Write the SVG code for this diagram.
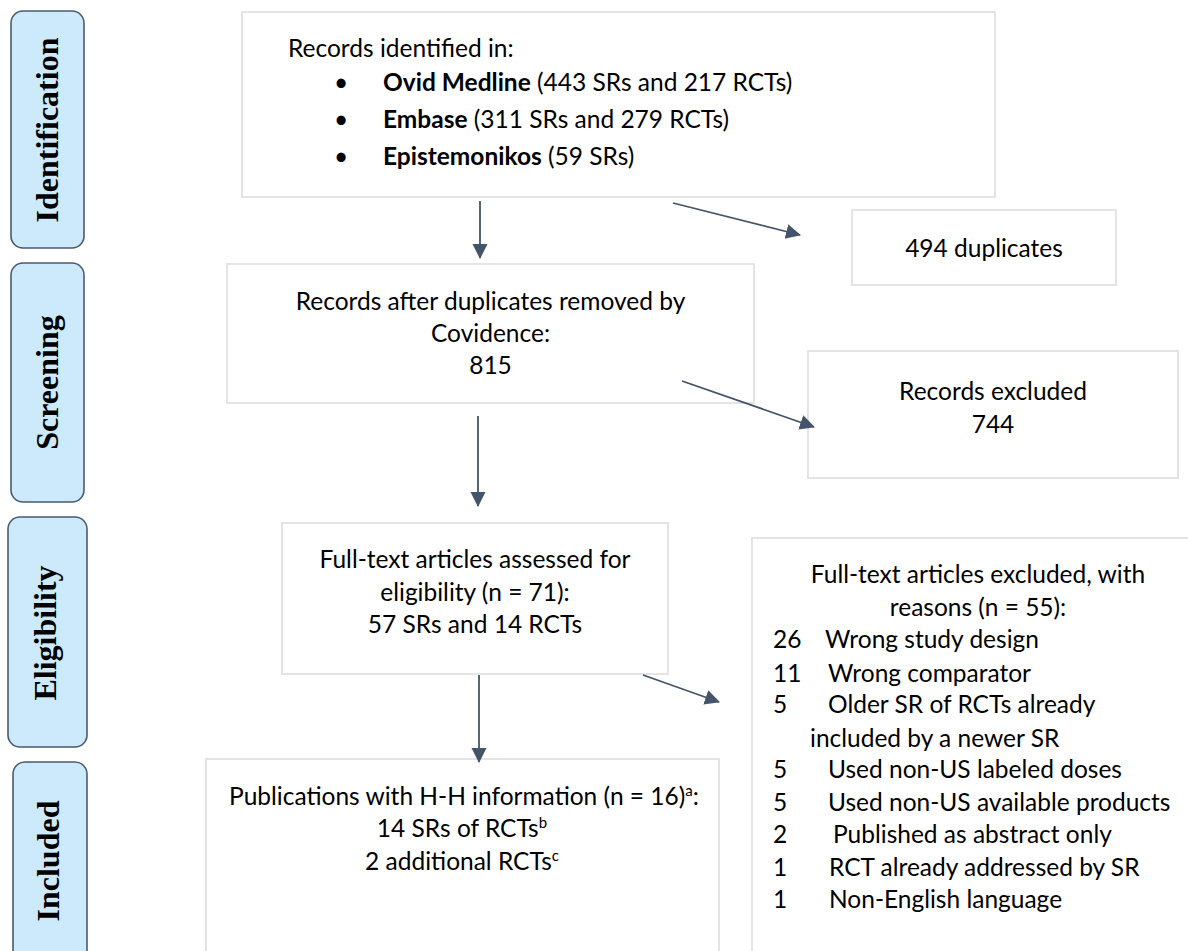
<svg xmlns="http://www.w3.org/2000/svg" width="1188" height="951" viewBox="0 0 1188 951">
<defs>
<style>
.phase{fill:#cdeafd;stroke:#4a5a70;stroke-width:1.6}
.ph{font-family:"Liberation Serif","Times New Roman",serif;font-weight:bold;font-size:32px;fill:#000;text-anchor:middle}
.box{fill:#fff;stroke:#e4e4e4;stroke-width:2}
.t{font-family:Lato,"Liberation Sans",sans-serif;font-size:24.5px;fill:#000}
.c{text-anchor:middle}
.b{font-weight:bold}
.con{stroke:#44546a;stroke-width:1.8;fill:none}
</style>
<marker id="ah" markerUnits="userSpaceOnUse" markerWidth="16" markerHeight="16" refX="14" refY="7.5" orient="auto">
<path d="M0,0 L15,7.5 L0,15 z" fill="#44546a"/>
</marker>
</defs>
<rect width="1188" height="951" fill="#fff"/>

<g id="phase-identification">
<rect class="phase" x="11" y="11" width="73" height="237" rx="12"/>
<text class="ph" transform="translate(58,130) rotate(-90)">Identification</text>
</g>
<g id="phase-screening">
<rect class="phase" x="11" y="263" width="73" height="239" rx="12"/>
<text class="ph" transform="translate(58,382.5) rotate(-90)">Screening</text>
</g>
<g id="phase-eligibility">
<rect class="phase" x="8" y="517" width="79" height="230" rx="12"/>
<text class="ph" transform="translate(56,633) rotate(-90)">Eligibility</text>
</g>
<g id="phase-included">
<rect class="phase" x="13" y="762" width="74" height="210" rx="12"/>
<text class="ph" transform="translate(59,861) rotate(-90)">Included</text>
</g>

<g id="node-identified">
<rect class="box" x="242" y="12" width="753" height="185"/>
<text class="t" x="288" y="57">Records identified in:</text>
<text class="t" x="334" y="91" font-family="Liberation Sans">•</text>
<text class="t" x="383" y="91"><tspan class="b">Ovid Medline</tspan> (443 SRs and 217 RCTs)</text>
<text class="t" x="334" y="128" font-family="Liberation Sans">•</text>
<text class="t" x="383" y="128"><tspan class="b">Embase</tspan> (311 SRs and 279 RCTs)</text>
<text class="t" x="334" y="165" font-family="Liberation Sans">•</text>
<text class="t" x="383" y="165"><tspan class="b">Epistemonikos</tspan> (59 SRs)</text>
</g>

<g id="node-duplicates">
<rect class="box" x="852" y="210" width="264" height="75"/>
<text class="t c" x="984" y="257">494 duplicates</text>
</g>

<g id="node-after-duplicates">
<rect class="box" x="227" y="264" width="527" height="139"/>
<text class="t c" x="490.5" y="310">Records after duplicates removed by</text>
<text class="t c" x="490.5" y="342">Covidence:</text>
<text class="t c" x="490.5" y="374">815</text>
</g>

<g id="node-records-excluded">
<rect class="box" x="808" y="351" width="370" height="127"/>
<text class="t c" x="993" y="400">Records excluded</text>
<text class="t c" x="993" y="433">744</text>
</g>

<g id="node-fulltext-assessed">
<rect class="box" x="282" y="523" width="386" height="151"/>
<text class="t c" x="475" y="568">Full-text articles assessed for</text>
<text class="t c" x="475" y="601">eligibility (n = 71):</text>
<text class="t c" x="475" y="633">57 SRs and 14 RCTs</text>
</g>

<g id="node-fulltext-excluded">
<rect class="box" x="752" y="538" width="452" height="430"/>
<text class="t c" x="978" y="583">Full-text articles excluded, with</text>
<text class="t c" x="978" y="616">reasons (n = 55):</text>
<text class="t" x="773" y="648">26</text><text class="t" x="825" y="648">Wrong study design</text>
<text class="t" x="773" y="682">11</text><text class="t" x="828" y="682">Wrong comparator</text>
<text class="t" x="773" y="713">5</text><text class="t" x="828" y="713">Older SR of RCTs already</text>
<text class="t" x="810" y="747">included by a newer SR</text>
<text class="t" x="773" y="778">5</text><text class="t" x="828" y="778">Used non-US labeled doses</text>
<text class="t" x="773" y="811">5</text><text class="t" x="828" y="811">Used non-US available products</text>
<text class="t" x="773" y="843">2</text><text class="t" x="833" y="843">Published as abstract only</text>
<text class="t" x="773" y="876">1</text><text class="t" x="829" y="876">RCT already addressed by SR</text>
<text class="t" x="773" y="908">1</text><text class="t" x="829" y="908">Non-English language</text>
</g>

<g id="node-included">
<rect class="box" x="206" y="759" width="513" height="210"/>
<text class="t c" x="464" y="805">Publications with H-H information (n = 16)<tspan dy="-9" font-size="15">a</tspan><tspan dy="9">:</tspan></text>
<text class="t c" x="462" y="837">14 SRs of RCTs<tspan dy="-9" font-size="15">b</tspan></text>
<text class="t c" x="462" y="870">2 additional RCTs<tspan dy="-9" font-size="15">c</tspan></text>
</g>

<g id="connectors">
<line class="con" x1="480" y1="201" x2="480" y2="258" marker-end="url(#ah)"/>
<line class="con" x1="673" y1="203" x2="800" y2="235" marker-end="url(#ah)"/>
<line class="con" x1="682" y1="381" x2="814" y2="427" marker-end="url(#ah)"/>
<line class="con" x1="478" y1="416" x2="478" y2="506" marker-end="url(#ah)"/>
<line class="con" x1="479" y1="675" x2="479" y2="762" marker-end="url(#ah)"/>
<line class="con" x1="643" y1="675" x2="719" y2="702" marker-end="url(#ah)"/>
</g>
</svg>
